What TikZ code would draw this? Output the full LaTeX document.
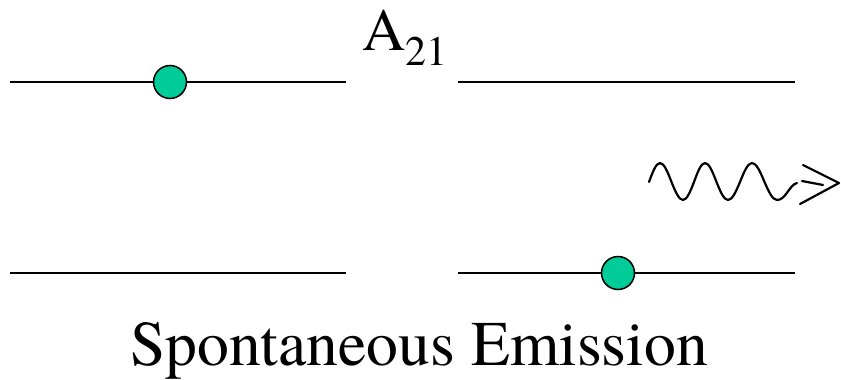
\documentclass[tikz,border=0pt]{standalone}
\usepackage{fontspec}
\setmainfont{TeX Gyre Termes}
\definecolor{dotgreen}{HTML}{00CC99}
\begin{document}
\begin{tikzpicture}[x=1pt,y=-1pt,
  level/.style={line width=2pt},
  atom/.style={circle,draw=black,line width=1.5pt,fill=dotgreen,minimum size=33pt,inner sep=0pt},
  wave/.style={line width=2.2pt,line cap=round,line join=round},
  lbl/.style={inner sep=0pt,anchor=base west}]
\useasboundingbox (0,0) rectangle (841,380);
% energy levels
\draw[level] (10,82) -- (346,82);
\draw[level] (458,82) -- (795,82);
\draw[level] (10,273) -- (346,273);
\draw[level] (458,273) -- (795,273);
% atoms
\node[atom] (e1) at (170,82) {};
\node[atom] (e2) at (618,273) {};
% label
\node[lbl] (a21) at (362,50) {\fontsize{60}{64}\selectfont A\raisebox{-15pt}{\fontsize{42}{46}\selectfont 21}};
\node[lbl] (title) at (130,365) {\fontsize{63.6}{70}\selectfont Spontaneous Emission};
% photon
\draw[wave] (649,182) sin (660,163) cos (671.5,182) sin (683,200) cos (694,182)
  sin (705,163) cos (716.5,182) sin (728,200) cos (740,182)
  sin (752,163) cos (764.5,182) sin (777,200)
  .. controls (786,200) and (789,185) .. (797,183);
\coordinate (d1) at (802,181);
\coordinate (d2) at (823,185);
\coordinate (h1) at (803,165);
\coordinate (h2) at (800,204);
\coordinate (tip) at (839,183);
\draw[wave] (d1) -- (d2);
\draw[wave] (h1) -- (tip) -- (h2);
\end{tikzpicture}
\end{document}
